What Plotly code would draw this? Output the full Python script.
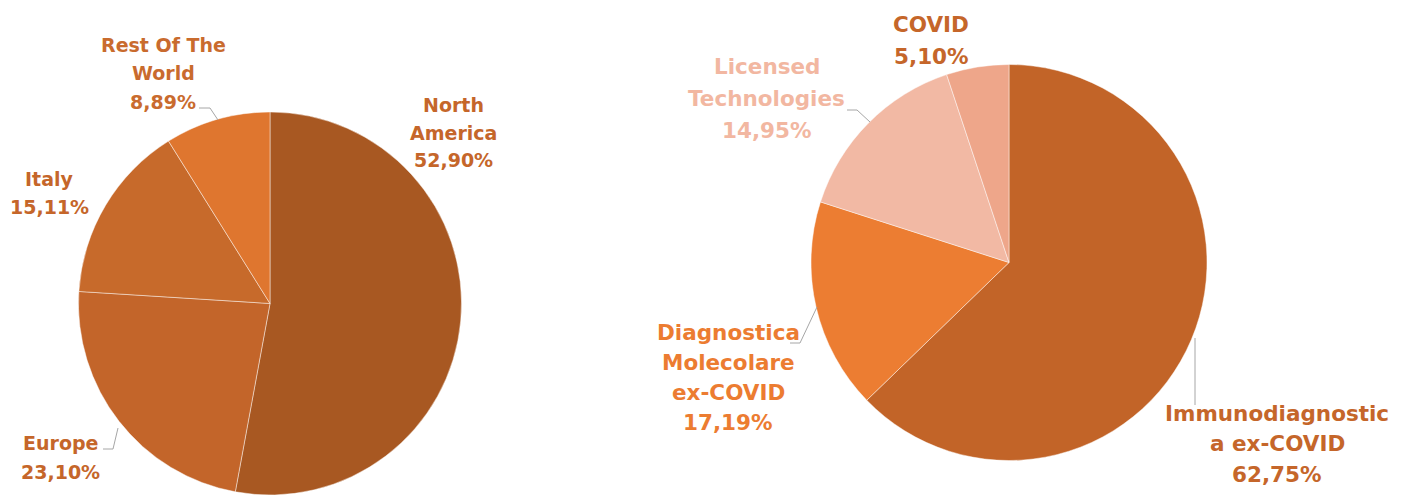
import plotly.graph_objects as go

# ---------------- data ----------------
left_labels = ["North America", "Europe", "Italy", "Rest Of The World"]
left_values = [52.90, 23.10, 15.11, 8.89]
left_display = [["North", "America"], ["Europe"], ["Italy"], ["Rest Of The", "World"]]

right_labels = ["Immunodiagnostica ex-COVID", "Diagnostica Molecolare ex-COVID",
                "Licensed Technologies", "COVID"]
right_values = [62.75, 17.19, 14.95, 5.10]
right_display = [["Immunodiagnostic", "a ex-COVID"], ["Diagnostica", "Molecolare", "ex-COVID"],
                 ["Licensed", "Technologies"], ["COVID"]]

# ---------------- styles / layout ----------------
W, H = 1410, 495
left_colors = ["#A85822", "#C3652A", "#C76A2B", "#DF762F"]
right_colors = ["#C26428", "#EC7D32", "#F2B9A4", "#EEA68A"]
left_text_colors = ["#C5662A", "#C5662A", "#C5662A", "#C96B2E"]
right_text_colors = ["#C5662A", "#EC7C31", "#F2B7A1", "#C5662A"]

# label placement (pixel): centre x, first line y, line spacing
left_label_pos = [(453, 105, 27.5), (60, 443, 29), (49, 179, 28), (163, 45, 28.5)]
right_label_pos = [(1277, 413, 30.5), (728, 332, 30.3), (767, 67, 31.5), (931, 25, 31)]
left_font = 19
right_font = 21.5

# leader lines (pixel paths)
left_leaders = [None, [(103, 449), (113, 449), (118, 428)], None,
                [(199, 108), (210, 108), (218, 120)]]
right_leaders = [[(1195, 338), (1195, 405)], [(790, 343), (800, 343), (817, 307)],
                 [(847, 110), (857, 110), (870, 122)], None]


def px(x):
    return x / W


def py(y):
    return 1 - y / H


def fmt(v):
    return f"{v:.2f}".replace(".", ",") + "%"


fig = go.Figure()

common = dict(sort=False, direction="clockwise", rotation=0, textinfo="none",
              hoverinfo="label+percent", showlegend=False)

fig.add_trace(go.Pie(labels=left_labels, values=left_values,
                     marker=dict(colors=left_colors,
                                 line=dict(color="rgba(255,255,255,0.45)", width=1)),
                     domain=dict(x=[px(77), px(463)], y=[0, py(112)]), **common))
fig.add_trace(go.Pie(labels=right_labels, values=right_values,
                     marker=dict(colors=right_colors,
                                 line=dict(color="rgba(255,255,255,0.45)", width=1)),
                     domain=dict(x=[px(811), px(1207)], y=[py(461), py(64)]), **common))

annotations = []
shapes = []


def add_labels(display, values, positions, colors, size):
    for lines, v, (cx, y0, dy), col in zip(display, values, positions, colors):
        for i, t in enumerate(lines + [fmt(v)]):
            annotations.append(dict(
                x=px(cx), y=py(y0 + i * dy), xref="paper", yref="paper",
                text=t, showarrow=False, xanchor="center", yanchor="middle",
                font=dict(family="DejaVu Sans", size=size, color=col, weight="bold")))


def add_leaders(leaders):
    for pts in leaders:
        if not pts:
            continue
        path = "M " + " L ".join(f"{px(x)},{py(y)}" for x, y in pts)
        shapes.append(dict(type="path", path=path, xref="paper", yref="paper",
                           line=dict(color="#A6A6A6", width=1)))


add_labels(left_display, left_values, left_label_pos, left_text_colors, left_font)
add_labels(right_display, right_values, right_label_pos, right_text_colors, right_font)
add_leaders(left_leaders)
add_leaders(right_leaders)

fig.update_layout(width=W, height=H, margin=dict(l=0, r=0, t=0, b=0),
                  paper_bgcolor="white", plot_bgcolor="white",
                  annotations=annotations, shapes=shapes)

fig.write_html("out.html", config={"displayModeBar": False},
               post_script="document.body.style.margin='0';document.body.style.overflow='hidden';")
